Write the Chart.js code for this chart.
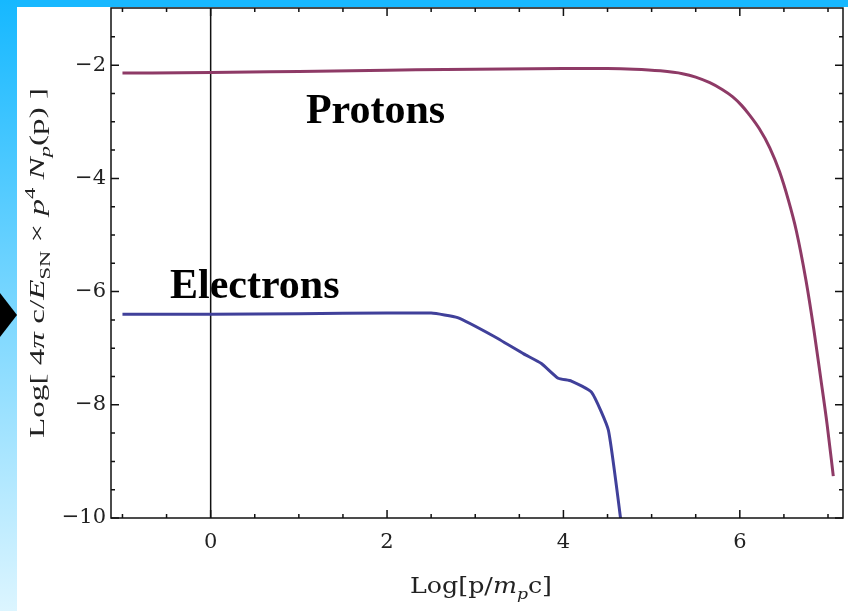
<!DOCTYPE html>
<html>
<head>
<meta charset="utf-8">
<script src="https://cdn.jsdelivr.net/npm/chart.js@4.4.1/dist/chart.umd.min.js"></script>
<style>
  body { margin: 0; width: 848px; height: 611px; position: relative; background: #fff; overflow: hidden; }
  #topband { position: absolute; left: 0; top: 0; width: 848px; height: 7px; background: #18b8ff; }
  #side { position: absolute; left: 0; top: 0; width: 17px; height: 611px; background: linear-gradient(#16b8ff, #dcf5ff); }
  #arrow { position: absolute; left: 0; top: 293px; width: 17px; height: 44px; background: #000; clip-path: polygon(0 0, 100% 50%, 0 100%); }
  #wrap { position: absolute; left: 17px; top: 7px; width: 831px; height: 604px; background: #fff; }
  canvas { display: block; }
</style>
</head>
<body>
<div id="topband"></div>
<div id="side"></div>
<div id="arrow"></div>
<div id="wrap"><canvas id="myChart" width="831" height="604"></canvas></div>
<script>
// proton spectrum
const protonX = [-1, 0, 1, 2, 3, 4, 4.5, 4.8, 5.1, 5.35, 5.5, 5.66, 5.8, 5.92, 6.02, 6.1, 6.22, 6.34, 6.45, 6.55, 6.64, 6.75, 6.84, 6.92, 6.99, 7.06];
const protonY = [-2.14, -2.13, -2.11, -2.09, -2.07, -2.06, -2.06, -2.07, -2.1, -2.15, -2.21, -2.31, -2.43, -2.56, -2.71, -2.86, -3.12, -3.46, -3.88, -4.38, -4.92, -5.8, -6.68, -7.56, -8.35, -9.26];
// electron spectrum
const electronX = [-1, 0, 1, 2, 2.5, 2.8, 3.2, 3.55, 3.75, 3.94, 4.09, 4.32, 4.51, 4.68];
const electronY = [-6.40, -6.40, -6.39, -6.38, -6.38, -6.46, -6.78, -7.10, -7.27, -7.53, -7.58, -7.78, -8.45, -10.4];

const xTicks = [-1, -0.5, 0, 0.5, 1, 1.5, 2, 2.5, 3, 3.5, 4, 4.5, 5, 5.5, 6, 6.5, 7];
const xLabelled = [0, 2, 4, 6];
const yTicks = [-10, -9.5, -9, -8.5, -8, -7.5, -7, -6.5, -6, -5.5, -5, -4.5, -4, -3.5, -3, -2.5, -2, -1.5];
const yLabelled = [-10, -8, -6, -4, -2];

const curveLabels = [
  {text: 'Protons', x: 1.87, y: -3.02},
  {text: 'Electrons', x: 0.5, y: -6.11}
];

const toPoints = (xs, ys) => xs.map((v, i) => ({x: v, y: ys[i]}));
const fmt = v => (v < 0 ? '\u2212' + Math.abs(v) : String(v));

// draw text made of pieces (italic, sub/superscript), stretched to a given length
function drawRich(ctx, parts, size, family, targetW) {
  ctx.textAlign = 'left';
  ctx.textBaseline = 'alphabetic';
  let w = 0;
  const items = parts.map(p => {
    const fs = p.s ? size * 0.68 : size;
    const font = (p.i ? 'italic ' : '') + fs + 'px ' + family;
    ctx.font = font;
    const it = {t: p.t, font: font, x: w, dy: p.s === 'sub' ? size * 0.28 : p.s === 'sup' ? -size * 0.42 : 0};
    w += ctx.measureText(p.t).width;
    return it;
  });
  ctx.scale(targetW / w, 1);
  items.forEach(it => {
    ctx.font = it.font;
    ctx.fillText(it.t, it.x - w / 2, it.dy);
  });
}

const yTitle = [{t: 'Log[ 4'}, {t: '\u03c0', i: 1}, {t: ' c/'}, {t: 'E', i: 1}, {t: 'SN', s: 'sub'},
  {t: ' \u00d7 '}, {t: 'p', i: 1}, {t: '4', s: 'sup'}, {t: ' '}, {t: 'N', i: 1}, {t: 'p', i: 1, s: 'sub'}, {t: '(p) ]'}];
const xTitle = [{t: 'Log[p/'}, {t: 'm', i: 1}, {t: 'p', i: 1, s: 'sub'}, {t: 'c]'}];

const framePlugin = {
  id: 'framePlugin',
  beforeDatasetsDraw(chart) {
    const {ctx, chartArea: a, scales: {x}} = chart;
    const x0 = x.getPixelForValue(0);
    ctx.save();
    ctx.strokeStyle = '#111';
    ctx.lineWidth = 1.5;
    ctx.beginPath();
    ctx.moveTo(x0, a.top);
    ctx.lineTo(x0, a.bottom);
    ctx.stroke();
    ctx.restore();
  },
  afterDatasetsDraw(chart) {
    const {ctx, chartArea: a, scales: {x, y}} = chart;
    ctx.save();
    ctx.strokeStyle = '#111';
    ctx.lineWidth = 1.5;
    ctx.strokeRect(a.left, a.top, a.width, a.height);
    ctx.beginPath();
    x.ticks.forEach(t => {
      const px = x.getPixelForValue(t.value);
      const len = xLabelled.includes(t.value) ? 8 : 4;
      ctx.moveTo(px, a.bottom); ctx.lineTo(px, a.bottom - len);
      ctx.moveTo(px, a.top); ctx.lineTo(px, a.top + len);
    });
    y.ticks.forEach(t => {
      const py = y.getPixelForValue(t.value);
      const len = yLabelled.includes(t.value) ? 8 : 4;
      ctx.moveTo(a.left, py); ctx.lineTo(a.left + len, py);
      ctx.moveTo(a.right, py); ctx.lineTo(a.right - len, py);
    });
    ctx.stroke();

    // curve names
    ctx.fillStyle = '#000';
    ctx.font = 'bold 42px "Liberation Serif"';
    ctx.textAlign = 'center';
    ctx.textBaseline = 'alphabetic';
    curveLabels.forEach(l => ctx.fillText(l.text, x.getPixelForValue(l.x), y.getPixelForValue(l.y)));

    // axis titles
    ctx.fillStyle = '#222';
    ctx.save();
    ctx.translate((a.left + a.right) / 2 + 4, 586);
    drawRich(ctx, xTitle, 22, '"DejaVu Serif"', 142);
    ctx.restore();
    ctx.save();
    ctx.translate(27, (a.top + a.bottom) / 2);
    ctx.rotate(-Math.PI / 2);
    drawRich(ctx, yTitle, 22, '"Liberation Serif"', 350);
    ctx.restore();
    ctx.restore();
  }
};

const noPad = s => { s.paddingTop = 0; s.paddingBottom = 0; s.paddingLeft = 0; s.paddingRight = 0; };

new Chart(document.getElementById('myChart'), {
  type: 'line',
  data: {
    datasets: [{
      label: 'Protons',
      data: toPoints(protonX, protonY),
      borderColor: '#8e3a66',
      borderWidth: 3,
      pointRadius: 0,
      cubicInterpolationMode: 'monotone'
    }, {
      label: 'Electrons',
      data: toPoints(electronX, electronY),
      borderColor: '#40409a',
      borderWidth: 3,
      pointRadius: 0,
      tension: 0.15
    }]
  },
  options: {
    responsive: false,
    devicePixelRatio: 1,
    animation: false,
    layout: {padding: {top: 1, right: 5, left: 0, bottom: 0}},
    plugins: {legend: {display: false}, tooltip: {enabled: false}},
    scales: {
      x: {
        type: 'linear',
        min: -1.13,
        max: 7.17,
        grid: {display: false, drawTicks: false},
        border: {display: false},
        afterBuildTicks: s => { s.ticks = xTicks.map(v => ({value: v})); },
        afterFit: s => { s.height = 93; noPad(s); },
        ticks: {
          autoSkip: false,
          maxRotation: 0,
          padding: 12,
          color: '#222',
          font: {family: '"DejaVu Serif"', size: 21},
          callback: v => (xLabelled.includes(v) ? fmt(v) : '')
        }
      },
      y: {
        min: -10,
        max: -0.99,
        grid: {display: false, drawTicks: false},
        border: {display: false},
        afterBuildTicks: s => { s.ticks = yTicks.map(v => ({value: v})); },
        afterFit: s => { s.width = 94; noPad(s); },
        ticks: {
          autoSkip: false,
          padding: 5,
          color: '#222',
          font: {family: '"DejaVu Serif"', size: 21},
          callback: v => (yLabelled.includes(v) ? fmt(v) : '')
        }
      }
    }
  },
  plugins: [framePlugin]
});
</script>
</body>
</html>
